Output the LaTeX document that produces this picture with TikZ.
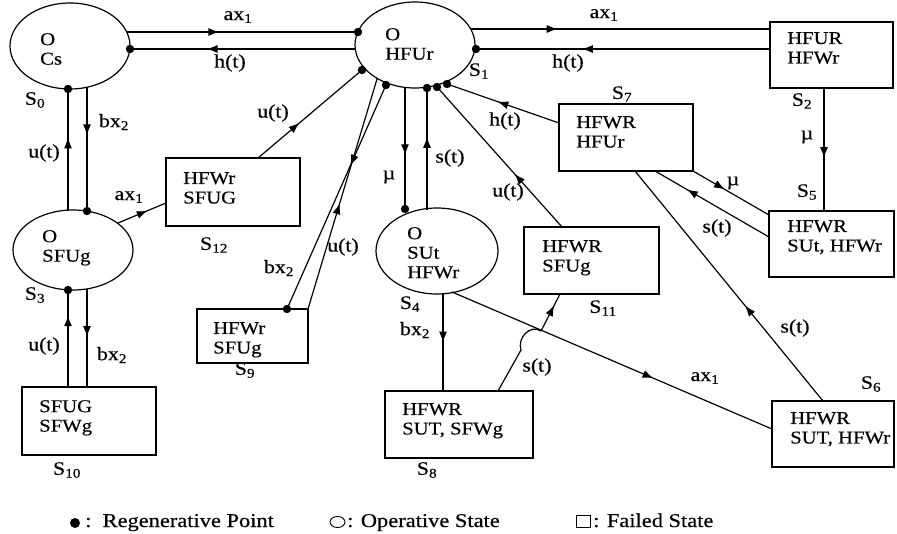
\documentclass[tikz,border=0pt]{standalone}
\usepackage{fontspec}
\setmainfont[FakeStretch=1.15,FakeBold=0.4]{Liberation Serif}
\usetikzlibrary{arrows.meta,decorations.markings,shapes.geometric}
\begin{document}
\begin{tikzpicture}[x=1pt,y=-1pt,
  stt/.style={draw, line width=1.2pt, ellipse, inner sep=0pt},
  fbox/.style={draw, line width=1.2pt, rectangle, inner sep=0pt},
  txt/.style={align=left, anchor=north west, inner sep=0pt, font=\fontsize{18}{19.5}\selectfont},
  lbl/.style={inner sep=0pt, font=\fontsize{19}{20}\selectfont},
  lgd/.style={inner sep=0pt, anchor=base west, font=\fontsize{19.5}{21}\selectfont},
  conn/.style={line width=1.2pt},
  marr/.style={postaction={decorate}, decoration={markings, mark=at position #1 with {\arrow{Latex[length=11pt,width=8pt]}}}}
]
\path[fill=white] (0,0) rectangle (897,533);
\useasboundingbox (0,0) rectangle (897,533);

% ---------- states ----------
\node[stt, minimum width=120pt, minimum height=86pt] (s0) at (70,46) {};
\node[stt, minimum width=120pt, minimum height=86pt] (s1) at (415,45) {};
\node[stt, minimum width=120pt, minimum height=80pt] (s3) at (73,250) {};
\node[stt, minimum width=122pt, minimum height=86pt] (s4) at (437,251) {};
\node[fbox, minimum width=123pt, minimum height=66pt] (s2) at (831.5,55) {};
\node[fbox, minimum width=125pt, minimum height=66pt] (s5) at (831.5,244) {};
\node[fbox, minimum width=122pt, minimum height=66pt] (s6) at (833,434) {};
\node[fbox, minimum width=134pt, minimum height=67pt] (s7) at (626,137.5) {};
\node[fbox, minimum width=135pt, minimum height=67pt] (s11) at (591.5,260.5) {};
\node[fbox, minimum width=134pt, minimum height=68pt] (s12) at (233,192) {};
\node[fbox, minimum width=111pt, minimum height=54pt] (s9) at (252.5,336) {};
\node[fbox, minimum width=134pt, minimum height=68pt] (s10) at (89,421) {};
\node[fbox, minimum width=148pt, minimum height=67pt] (s8) at (459,424.5) {};

% ---------- texts inside ----------
\node[txt] (t0) at (40,33) {O\\Cs};
\node[txt] (t1) at (385,28) {O\\HFUr};
\node[txt] (t3) at (42,230) {O\\SFUg};
\node[txt] (t4) at (407,227) {O\\SUt\\HFWr};
\node[txt] (t2) at (787,32) {HFUR\\HFWr};
\node[txt] (t5) at (787,220) {HFWR\\SUt, HFWr};
\node[txt] (t6) at (790,412) {HFWR\\SUT, HFWr};
\node[txt] (t7) at (576,116) {HFWR\\HFUr};
\node[txt] (t11) at (542,240) {HFWR\\SFUg};
\node[txt] (t12) at (183,172) {HFWr\\SFUG};
\node[txt] (t9) at (213,322) {HFWr\\SFUg};
\node[txt] (t10) at (39,400) {SFUG\\SFWg};
\node[txt] (t8) at (402,403) {HFWR\\SUT, SFWg};

% ---------- state names ----------
\node[lbl] (n0) at (35,100) {S\textsubscript{0}};
\node[lbl] (n1) at (479,71) {S\textsubscript{1}};
\node[lbl] (n2) at (802,101) {S\textsubscript{2}};
\node[lbl] (n3) at (35,295) {S\textsubscript{3}};
\node[lbl] (n4) at (410,304) {S\textsubscript{4}};
\node[lbl] (n5) at (807,192) {S\textsubscript{5}};
\node[lbl] (n6) at (871,384) {S\textsubscript{6}};
\node[lbl] (n7) at (622,94) {S\textsubscript{7}};
\node[lbl] (n8) at (427,470) {S\textsubscript{8}};
\node[lbl] (n9) at (245,370) {S\textsubscript{9}};
\node[lbl] (n10) at (67,470) {S\textsubscript{10}};
\node[lbl] (n11) at (603,308) {S\textsubscript{11}};
\node[lbl] (n12) at (214,245) {S\textsubscript{12}};

% ---------- connection points ----------
\coordinate (s0a) at (127,32);
\coordinate (s0h) at (130,49);
\coordinate (s0u) at (68,89);
\coordinate (s0b) at (87,87);
\coordinate (s1a) at (358,32);
\coordinate (s1h) at (355,49);
\coordinate (s1r1) at (471,29);
\coordinate (s1r2) at (476,49);
\coordinate (s1u12) at (362,70);
\coordinate (s1b9) at (386,85);
\coordinate (s1u9) at (377,79);
\coordinate (s1mu) at (405,87);
\coordinate (s1s4) at (427,88);
\coordinate (s1u11) at (437,87);
\coordinate (s1h7) at (447,84);
\coordinate (s3u) at (68,210);
\coordinate (s3b) at (87,211);
\coordinate (s3d) at (68,290);
\coordinate (s3e) at (87,289);
\coordinate (s3a) at (118,223);
\coordinate (s4mu) at (405,209);
\coordinate (s4s) at (427,210);
\coordinate (s4b) at (443,294);
\coordinate (s4a) at (452,292);
\coordinate (s2w1) at (770,29);
\coordinate (s2w2) at (770,49);
\coordinate (s2d) at (824,88);
\coordinate (s5u) at (824,211);
\coordinate (s5w1) at (769,215);
\coordinate (s5w2) at (769,237);
\coordinate (s7c) at (693,171);
\coordinate (s7b1) at (655,171);
\coordinate (s7b2) at (635,171);
\coordinate (s7w) at (559,123);
\coordinate (s6n) at (823,401);
\coordinate (s6w) at (772,429);
\coordinate (s11n) at (562,227);
\coordinate (s11s) at (560,294);
\coordinate (s12n) at (258,158);
\coordinate (s12w) at (166,203);
\coordinate (s9a) at (287,309);
\coordinate (s9b) at (308,309);
\coordinate (s10a) at (68,387);
\coordinate (s10b) at (87,387);
\coordinate (s8a) at (443,391);
\coordinate (s8b) at (498,391);
\coordinate (hopa) at (521,350);
\coordinate (hopb) at (541,331);

% ---------- connectors ----------
\draw[conn, marr=0.40] (s0a) -- (s1a);
\draw[conn, marr=0.66] (s1h) -- (s0h);
\draw[conn, marr=0.29] (s1r1) -- (s2w1);
\draw[conn, marr=0.64] (s2w2) -- (s1r2);
\draw[conn, marr=0.57] (s2d) -- (s5u);
\draw[conn, marr=0.42] (s7c) -- (s5w1);
\draw[conn, marr=0.72] (s5w2) -- (s7b1);
\draw[conn, marr=0.415] (s6n) -- (s7b2);
\draw[conn, marr=0.55] (s7w) -- (s1h7);
\draw[conn, marr=0.38] (s11n) -- (s1u11);
\draw[conn, marr=0.56] (s1mu) -- (s4mu);
\draw[conn, marr=0.60] (s4s) -- (s1s4);
\draw[conn, marr=0.36] (s1b9) -- (s9a);
\draw[conn, marr=0.46] (s9b) -- (s1u9);
\draw[conn, marr=0.40] (s12n) -- (s1u12);
\draw[conn, marr=0.39] (s0b) -- (s3b);
\draw[conn, marr=0.60] (s3u) -- (s0u);
\draw[conn, marr=0.62] (s3a) -- (s12w);
\draw[conn, marr=0.49] (s3e) -- (s10b);
\draw[conn, marr=0.74] (s10a) -- (s3d);
\draw[conn, marr=0.50] (s4b) -- (s8a);
\draw[conn, marr=0.63] (s4a) -- (s6w);
\draw[conn] (s8b) -- (hopa) .. controls (517,338) and (530,324) .. (hopb);
\draw[conn, marr=0.70] (hopb) -- (s11s);

% ---------- regenerative dots ----------
\foreach \p in {s0h,s0u,s1a,s1r2,s1u12,s1b9,s1s4,s1u11,s1h7,s3b,s3d,s4mu,s9a}
  \fill (\p) circle (4.2pt);

% ---------- connector labels ----------
\node[lbl] (l1) at (238,17) {ax\textsubscript{1}};
\node[lbl] (l2) at (230,63) {h(t)};
\node[lbl] (l3) at (604,15) {ax\textsubscript{1}};
\node[lbl] (l4) at (568,63) {h(t)};
\node[lbl] (l5) at (807,137) {µ};
\node[lbl] (l6) at (733,183) {µ};
\node[lbl] (l7) at (717,228) {s(t)};
\node[lbl] (l8) at (795,328) {s(t)};
\node[lbl] (l9) at (505,121) {h(t)};
\node[lbl] (l10) at (508,192) {u(t)};
\node[lbl] (l11) at (389,177) {µ};
\node[lbl] (l12) at (450,158) {s(t)};
\node[lbl] (l13) at (279,268) {bx\textsubscript{2}};
\node[lbl] (l14) at (343,247) {u(t)};
\node[lbl] (l15) at (273,113) {u(t)};
\node[lbl] (l16) at (114,122) {bx\textsubscript{2}};
\node[lbl] (l17) at (44,153) {u(t)};
\node[lbl] (l18) at (129,197) {ax\textsubscript{1}};
\node[lbl] (l19) at (112,355) {bx\textsubscript{2}};
\node[lbl] (l20) at (44,346) {u(t)};
\node[lbl] (l21) at (415,330) {bx\textsubscript{2}};
\node[lbl] (l22) at (705,378) {ax\textsubscript{1}};
\node[lbl] (l23) at (537,367) {s(t)};

% ---------- legend ----------
\fill (75,523) circle (5pt);
\node[lgd] (lg1) at (85,527) {:\ \ Regenerative Point};
\draw[line width=0.9pt] (337.5,522) ellipse (7.5pt and 5.5pt);
\node[lgd] (lg2) at (347,527) {: Operative State};
\draw[line width=0.9pt] (576,515) rectangle (590,527);
\node[lgd] (lg3) at (593,527) {: Failed State};
\end{tikzpicture}
\end{document}
